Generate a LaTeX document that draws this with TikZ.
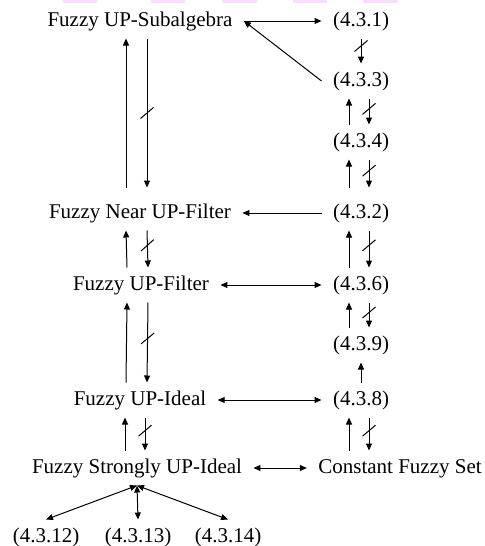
\documentclass[tikz,border=0pt]{standalone}
\usepackage{fontspec}
\setmainfont{Liberation Serif}
\usetikzlibrary{arrows.meta,decorations.markings}
\definecolor{tabpink}{RGB}{246,222,250}
\tikzset{
  lbl/.style={inner xsep=5.5pt,inner ysep=3.5pt,text height=7.5pt,text depth=2.5pt,font=\fontsize{10.5}{12}\selectfont},
  imp/.style={-{Triangle[length=3.5pt,width=3pt]}},
  dimp/.style={{Triangle[length=3.5pt,width=3pt]}-{Triangle[length=3.5pt,width=3pt]}},
  notimp/.style={imp,postaction={decorate},decoration={markings,mark=at position #1 with {\draw[-] (2.75pt,-3.25pt)--(-2.75pt,3.25pt);}}},
  notimp/.default=.4
}
\begin{document}
\begin{tikzpicture}[line width=.5pt,x=.5pt,y=-.5pt]
		\useasboundingbox (0,0) rectangle (484,546);
		\foreach \a/\b in {63/97,151/185,222/257,293/327,363/398}
			\fill[tabpink] (\a,0) rectangle (\b,2.5);
		\node[lbl] (sub) at (140,21) {Fuzzy UP-Subalgebra};
		\node[lbl] (n431) at (361,21) {(4.3.1)};
		\node[lbl] (n433) at (361,81) {(4.3.3)};
		\node[lbl] (n434) at (361,142) {(4.3.4)};
		\node[lbl] (near) at (140,213) {Fuzzy Near UP-Filter};
		\node[lbl] (n432) at (361,213) {(4.3.2)};
		\node[lbl] (filt) at (141,285) {Fuzzy UP-Filter};
		\node[lbl] (n436) at (361,285) {(4.3.6)};
		\node[lbl] (n439) at (361,345) {(4.3.9)};
		\node[lbl] (ideal) at (140,400) {Fuzzy UP-Ideal};
		\node[lbl] (n438) at (361,400) {(4.3.8)};
		\node[lbl] (strong) at (137,468) {Fuzzy Strongly UP-Ideal};
		\node[lbl] (const) at (400,468) {Constant Fuzzy Set};
		\node[lbl] (n4312) at (46,537) {(4.3.12)};
		\node[lbl] (n4313) at (138,537) {(4.3.13)};
		\node[lbl] (n4314) at (228,537) {(4.3.14)};
		\draw[imp] (sub) -- (n431);
		\draw[imp] (n433.west) -- (sub.east);
		\draw[notimp=.3] (n431) -- (n433);
		\draw[imp] ([xshift=-6pt]n434.north) -- ([xshift=-6pt]n433.south);
		\draw[notimp] ([xshift=4pt]n433.south) -- ([xshift=4pt]n434.north);
		\draw[imp] ([xshift=-6pt,yshift=4pt]n432.north) -- ([xshift=-6pt]n434.south);
		\draw[notimp] ([xshift=4pt]n434.south) -- ([xshift=4pt,yshift=4pt]n432.north);
		\draw[imp] ([xshift=-7pt,yshift=4pt]near.north) -- ([xshift=-7pt]sub.south);
		\draw[notimp=.5] ([xshift=3.5pt]sub.south) -- ([xshift=3.5pt,yshift=4pt]near.north);
		\draw[imp] (n432) -- (near);
		\draw[imp] ([xshift=-7pt]filt.north) -- ([xshift=-7pt]near.south);
		\draw[notimp] ([xshift=3.5pt]near.south) -- ([xshift=3.5pt]filt.north);
		\draw[imp] ([xshift=-6pt]n436.north) -- ([xshift=-6pt]n432.south);
		\draw[notimp] ([xshift=4pt]n432.south) -- ([xshift=4pt]n436.north);
		\draw[dimp] (filt) -- (n436);
		\draw[imp] ([xshift=-7pt]ideal.north) -- ([xshift=-7pt]filt.south);
		\draw[notimp=.45] ([xshift=3.5pt]filt.south) -- ([xshift=3.5pt]ideal.north);
		\draw[imp] ([xshift=-6pt]n439.north) -- ([xshift=-6pt]n436.south);
		\draw[notimp] ([xshift=4pt]n436.south) -- ([xshift=4pt]n439.north);
		\draw[imp] (n438) -- (n439);
		\draw[dimp] (ideal) -- (n438);
		\draw[imp] ([xshift=-6pt]strong.north) -- ([xshift=-7.5pt]ideal.south);
		\draw[notimp] ([xshift=2.5pt]ideal.south) -- ([xshift=4pt]strong.north);
		\draw[imp] ([xshift=-6pt]n438.south |- const.north) -- ([xshift=-6pt]n438.south);
		\draw[notimp] ([xshift=4pt]n438.south) -- ([xshift=4pt]n438.south |- const.north);
		\draw[dimp] (strong) -- (const);
		\draw[dimp] (strong.south) -- (n4312.north);
		\draw[dimp] (strong.south) -- (n4313.north);
		\draw[dimp] (strong.south) -- (n4314.north);
	\end{tikzpicture}
\end{document}
